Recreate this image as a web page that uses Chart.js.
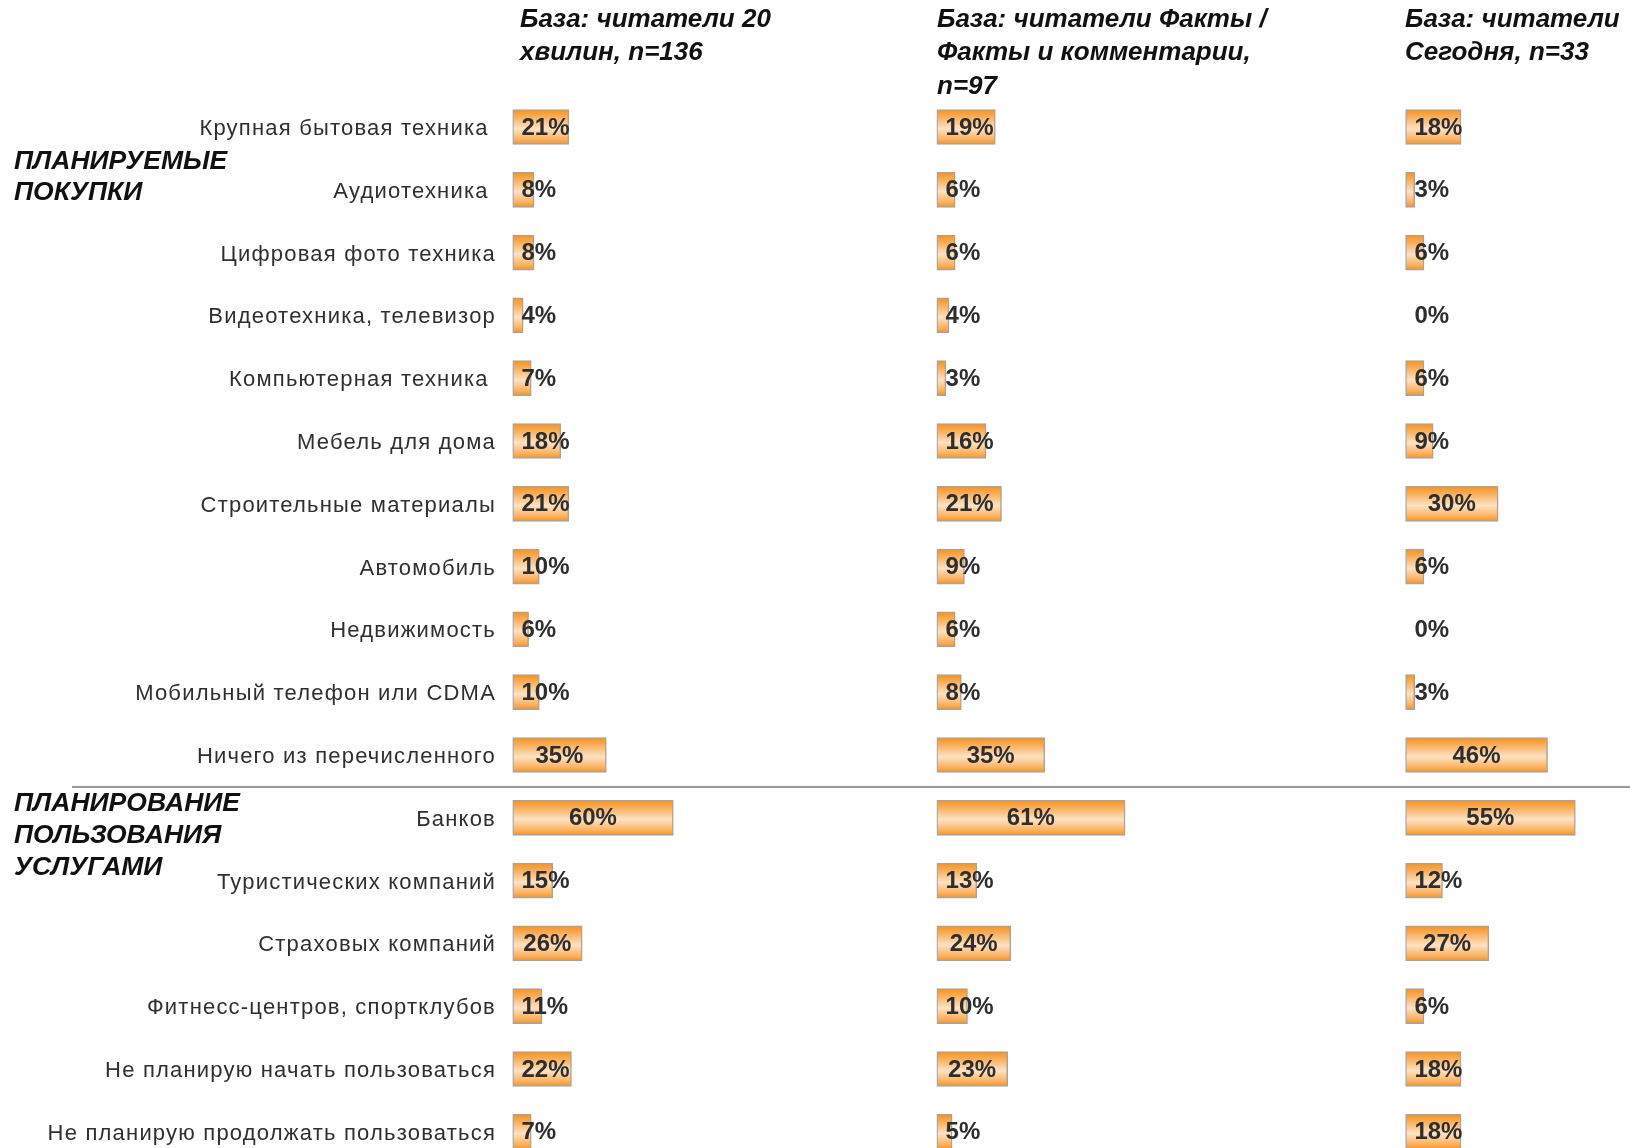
<!DOCTYPE html>
<html>
<head>
<meta charset="utf-8">
<script src="https://cdn.jsdelivr.net/npm/chart.js@4.4.1/dist/chart.umd.min.js"></script>
<style>
  html, body { margin: 0; padding: 0; background: #fff; overflow: hidden; }
  #wrap { position: relative; width: 1630px; height: 1148px; overflow: hidden; background: #fff; }
  #wrap canvas { position: absolute; left: 0; top: 0; }
</style>
</head>
<body>
<div id="wrap">
  <canvas id="c1" width="1630" height="1210"></canvas>
  <canvas id="c2" width="1630" height="1210"></canvas>
  <canvas id="c3" width="1630" height="1210"></canvas>
</div>
<script>
const categories = [
  'Крупная бытовая техника ',
  'Аудиотехника ',
  'Цифровая фото техника',
  'Видеотехника, телевизор',
  'Компьютерная техника ',
  'Мебель для дома',
  'Строительные материалы',
  'Автомобиль',
  'Недвижимость',
  'Мобильный телефон или CDMA',
  'Ничего из перечисленного',
  'Банков',
  'Туристических компаний',
  'Страховых компаний',
  'Фитнесс-центров, спортклубов',
  'Не планирую начать пользоваться',
  'Не планирую продолжать пользоваться'
];

// % of readers per paper
const readers20min = [21, 8, 8, 4, 7, 18, 21, 10, 6, 10, 35, 60, 15, 26, 11, 22, 7];
const readersFakty = [19, 6, 6, 4, 3, 16, 21, 9, 6, 8, 35, 61, 13, 24, 10, 23, 5];
const readersSegodnya = [18, 3, 6, 0, 6, 9, 30, 6, 0, 3, 46, 55, 12, 27, 6, 18, 18];

const header20min = ['База: читатели 20', 'хвилин, n=136'];
const headerFakty = ['База: читатели Факты /', 'Факты и комментарии,', 'n=97'];
const headerSegodnya = ['База: читатели', 'Сегодня, n=33'];

const sectionPurchases = ['ПЛАНИРУЕМЫЕ', 'ПОКУПКИ'];
const sectionServices = ['ПЛАНИРОВАНИЕ', 'ПОЛЬЗОВАНИЯ', 'УСЛУГАМИ'];

const W = 1630, H = 1210;
const ROW = 62.8, TOP = 95.6, BAR_H = 35;
const FONT = '"Liberation Sans", Arial, sans-serif';

function barFill(ctx) {
  const chart = ctx.chart;
  if (ctx.type === 'data' && !ctx.raw) return 'rgba(0,0,0,0)';
  if (ctx.type !== 'data' || !chart.chartArea || !chart.scales.y) return '#f8a03a';
  const c = chart.scales.y.getPixelForValue(ctx.dataIndex);
  const g = chart.ctx.createLinearGradient(0, c - BAR_H / 2, 0, c + BAR_H / 2);
  g.addColorStop(0, '#f7931c');
  g.addColorStop(0.18, '#f9a94e');
  g.addColorStop(0.55, '#fde2c4');
  g.addColorStop(0.85, '#fab262');
  g.addColorStop(1, '#f7921a');
  return g;
}

// category labels are spaced out a little wider than the plain font
const labelSpacing = {
  id: 'labelSpacing',
  beforeDraw(chart) { chart.ctx.letterSpacing = '1.2px'; },
  beforeDatasetsDraw(chart) { chart.ctx.letterSpacing = '0px'; }
};

// value text: centred in the bar, or pushed right when the bar is too short
const valueLabels = {
  id: 'valueLabels',
  afterDatasetsDraw(chart) {
    const ctx = chart.ctx;
    const meta = chart.getDatasetMeta(0);
    const data = chart.data.datasets[0].data;
    ctx.save();
    ctx.letterSpacing = '0px';
    ctx.font = 'bold 24px ' + FONT;
    ctx.fillStyle = '#2e2e2e';
    ctx.textAlign = 'center';
    ctx.textBaseline = 'middle';
    meta.data.forEach((bar, i) => {
      const text = data[i] + '%';
      const w = ctx.measureText(text).width;
      const x = Math.max((bar.base + bar.x) / 2, bar.base + 9 + w / 2);
      ctx.fillText(text, x, bar.y + 1);
    });
    ctx.restore();
  }
};

const textBlocks = {
  id: 'textBlocks',
  afterDraw(chart, args, opts) {
    if (!opts.blocks) return;
    const ctx = chart.ctx;
    ctx.save();
    ctx.letterSpacing = '0px';
    ctx.fillStyle = '#111';
    ctx.textAlign = 'left';
    ctx.textBaseline = 'middle';
    opts.blocks.forEach(b => {
      ctx.font = 'italic bold ' + b.size + 'px ' + FONT;
      b.lines.forEach((t, i) => ctx.fillText(t, b.x, b.y + i * b.step));
    });
    if (opts.rule) {
      ctx.strokeStyle = '#9a9a9a';
      ctx.lineWidth = 2;
      ctx.beginPath();
      ctx.moveTo(opts.rule.x0, opts.rule.y);
      ctx.lineTo(opts.rule.x1, opts.rule.y);
      ctx.stroke();
    }
    ctx.restore();
  }
};

function makeChart(id, values, left, pxPerPct, max, showLabels, blocks, rule) {
  const right = W - left - pxPerPct * max;
  return new Chart(document.getElementById(id), {
    type: 'bar',
    data: {
      labels: categories,
      datasets: [{
        data: values,
        backgroundColor: barFill,
        borderColor: '#aaa39c',
        borderWidth: ctx => (ctx.raw ? 1.5 : 0),
        borderSkipped: false,
        barThickness: BAR_H
      }]
    },
    options: {
      indexAxis: 'y',
      responsive: false,
      animation: false,
      events: [],
      layout: {
        padding: { left: showLabels ? 0 : left, right: right, top: TOP, bottom: H - TOP - ROW * categories.length }
      },
      scales: {
        x: { display: false, min: 0, max: max },
        y: {
          display: showLabels,
          grid: { display: false, drawTicks: false },
          border: { display: false },
          ticks: { color: '#2f2f2f', font: { family: FONT, size: 22 }, padding: 16.5, labelOffset: 2, autoSkip: false },
          afterFit: s => { if (showLabels) s.width = left; }
        }
      },
      plugins: {
        legend: { display: false },
        tooltip: { enabled: false },
        textBlocks: { blocks: blocks, rule: rule }
      }
    },
    plugins: [labelSpacing, valueLabels, textBlocks]
  });
}

makeChart('c1', readers20min, 512.5, 2.68, 100, true, [
  { lines: header20min, x: 520, y: 20, step: 33.3, size: 26 },
  { lines: sectionPurchases, x: 14, y: 162, step: 31, size: 26.5 },
  { lines: sectionServices, x: 14, y: 804, step: 32, size: 26.5 }
], { x0: 72, x1: W, y: 787 });

makeChart('c2', readersFakty, 936.6, 3.09, 100, false, [
  { lines: headerFakty, x: 937, y: 20, step: 33.3, size: 26 }
]);

makeChart('c3', readersSegodnya, 1405.4, 3.09, 70, false, [
  { lines: headerSegodnya, x: 1405, y: 20, step: 33.3, size: 26 }
]);
</script>
</body>
</html>
